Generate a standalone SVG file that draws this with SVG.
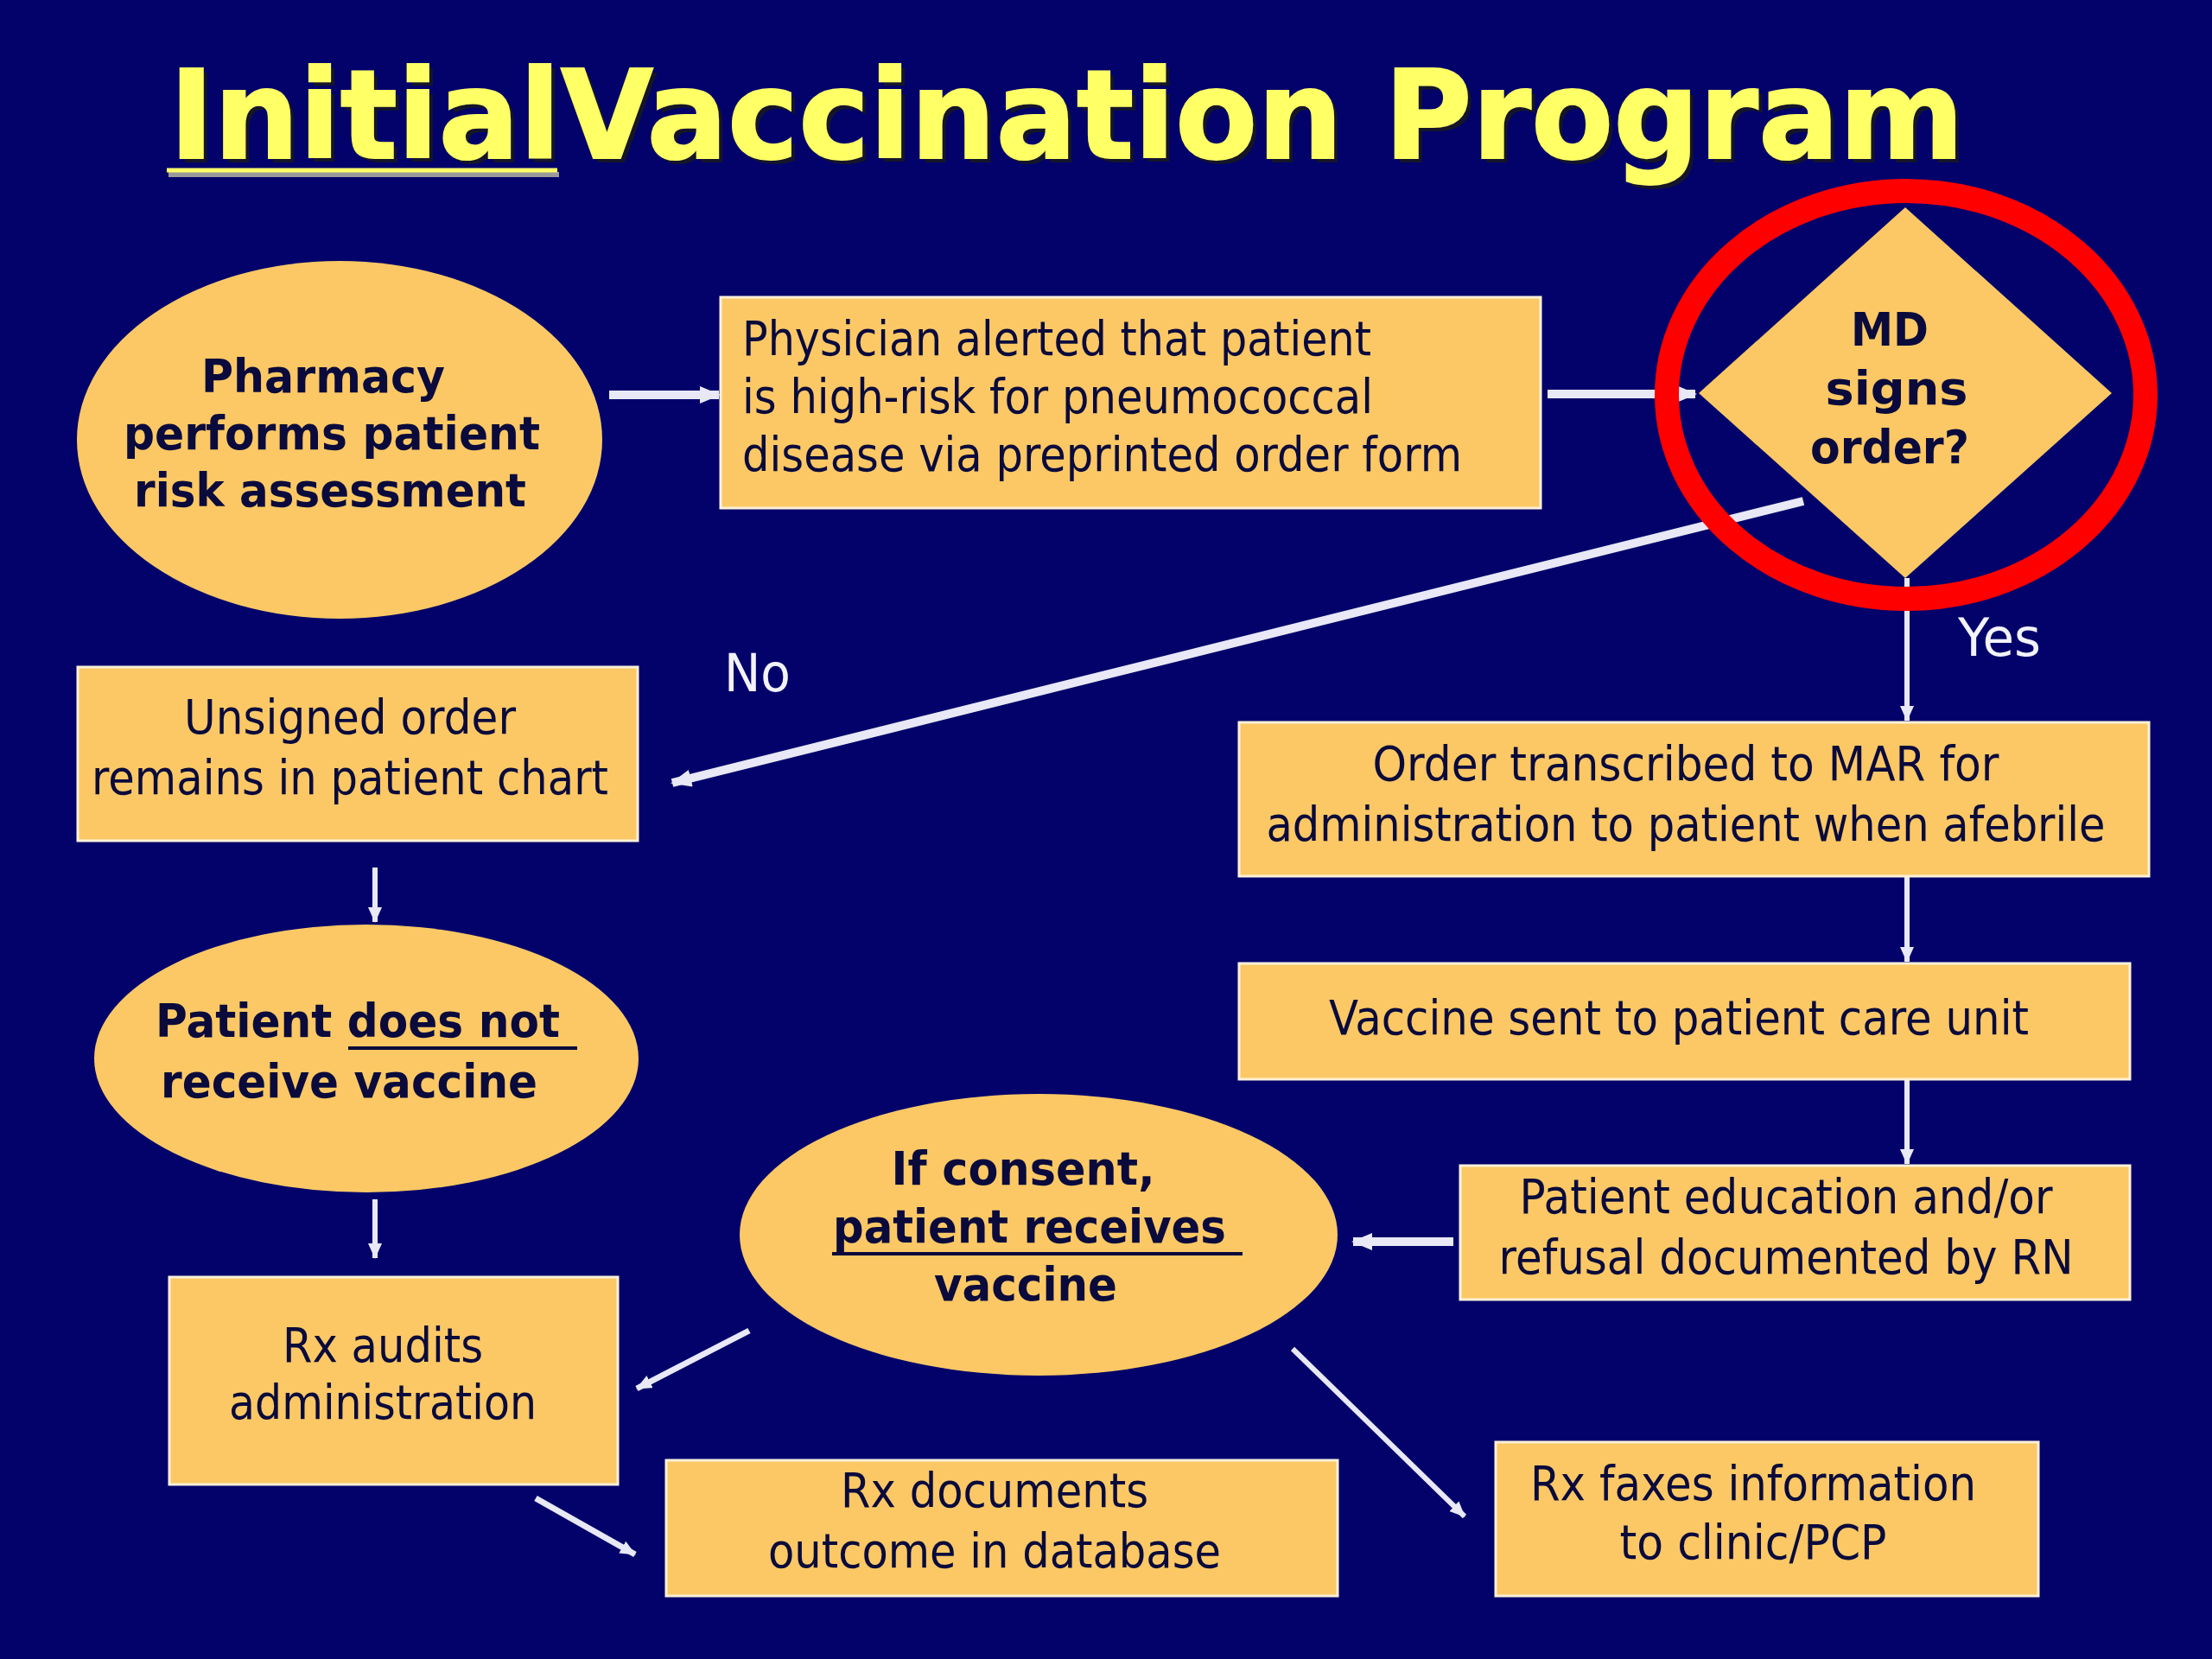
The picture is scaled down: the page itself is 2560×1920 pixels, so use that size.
<svg xmlns="http://www.w3.org/2000/svg" width="2560" height="1920" viewBox="0 0 2560 1920">
<style>
.node{fill:#fbc865;}
.rect{fill:#fbc865;stroke:#fff1d8;stroke-width:3;}
.t{font-family:"DejaVu Sans",Verdana,sans-serif;font-size:55px;fill:#0a0a3c;text-anchor:middle;}
.b{font-weight:bold;font-size:54px;}
.l{text-anchor:start;}
.lbl{font-family:"DejaVu Sans",Verdana,sans-serif;font-size:60px;fill:#f2f2fa;text-anchor:start;}
.c{stroke:#e8e8f6;fill:none;}
.ul{stroke:#0a0a3c;stroke-width:4;}
</style>
<defs>
<marker id="ah" markerUnits="userSpaceOnUse" markerWidth="24" markerHeight="20" refX="22" refY="10" orient="auto">
<path d="M0,0 L24,10 L0,20 z" fill="#e8e8f6"/>
</marker>
<marker id="ahs" markerUnits="userSpaceOnUse" markerWidth="18" markerHeight="16" refX="17" refY="8" orient="auto">
<path d="M0,0 L18,8 L0,16 z" fill="#e8e8f6"/>
</marker>
</defs>
<rect x="0" y="0" width="2560" height="1920" fill="#02026a"/>

<g id="title">
<text x="201" y="188" font-family="'DejaVu Sans',Verdana,sans-serif" font-weight="bold" font-size="143" fill="#15152a" textLength="2077" lengthAdjust="spacingAndGlyphs">InitialVaccination Program</text>
<text x="196" y="183" font-family="'DejaVu Sans',Verdana,sans-serif" font-weight="bold" font-size="143" fill="#ffff66" stroke="#ffff66" stroke-width="2" textLength="2077" lengthAdjust="spacingAndGlyphs">InitialVaccination Program</text>
<line x1="195" y1="202" x2="647" y2="202" stroke="#9a9a9a" stroke-width="6"/>
<line x1="193" y1="197" x2="645" y2="197" stroke="#ffff66" stroke-width="5"/>
</g>

<g id="connectors">
<path class="c" stroke-width="10" d="M705,457 L832,457" marker-end="url(#ah)"/>
<path class="c" stroke-width="10" d="M1791,456 L1962,456" marker-end="url(#ah)"/>
<path class="c" stroke-width="10" d="M2087,580 L778,906" marker-end="url(#ah)"/>
<path class="c" stroke-width="6" d="M2207,669 L2207,834" marker-end="url(#ahs)"/>
<path class="c" stroke-width="6" d="M2207,1014 L2207,1113" marker-end="url(#ahs)"/>
<path class="c" stroke-width="6" d="M2207,1249 L2207,1347" marker-end="url(#ahs)"/>
<path class="c" stroke-width="10" d="M1682,1437 L1566,1437" marker-end="url(#ah)"/>
<path class="c" stroke-width="6" d="M434,1004 L434,1067" marker-end="url(#ahs)"/>
<path class="c" stroke-width="6" d="M434,1388 L434,1456" marker-end="url(#ahs)"/>
<path class="c" stroke-width="7" d="M867,1540 L737,1607" marker-end="url(#ahs)"/>
<path class="c" stroke-width="6" d="M1496,1561 L1695,1755" marker-end="url(#ahs)"/>
<path class="c" stroke-width="7" d="M620,1734 L735,1799" marker-end="url(#ahs)"/>
<text class="lbl" x="838" y="800" textLength="77" lengthAdjust="spacingAndGlyphs">No</text>
<text class="lbl" x="2266" y="759" textLength="96" lengthAdjust="spacingAndGlyphs">Yes</text>
</g>

<g id="n-pharmacy">
<ellipse class="node" cx="393" cy="509" rx="304" ry="207"/>
<text class="t b" x="374" y="454" textLength="282" lengthAdjust="spacingAndGlyphs">Pharmacy</text>
<text class="t b" x="384" y="520" textLength="482" lengthAdjust="spacingAndGlyphs">performs patient</text>
<text class="t b" x="382" y="586" textLength="454" lengthAdjust="spacingAndGlyphs">risk assessment</text>
</g>

<g id="n-physician">
<rect class="rect" x="834" y="344" width="949" height="244"/>
<text class="t l" x="859" y="411" textLength="728" lengthAdjust="spacingAndGlyphs">Physician alerted that patient</text>
<text class="t l" x="859" y="478" textLength="730" lengthAdjust="spacingAndGlyphs">is high-risk for pneumococcal</text>
<text class="t l" x="859" y="545" textLength="833" lengthAdjust="spacingAndGlyphs">disease via preprinted order form</text>
</g>

<g id="n-md">
<polygon class="node" points="2205,240 2444,455 2205,669 1966,455"/>
<text class="t b" x="2187" y="400" textLength="90" lengthAdjust="spacingAndGlyphs">MD</text>
<text class="t b" x="2195" y="468" textLength="165" lengthAdjust="spacingAndGlyphs">signs</text>
<text class="t b" x="2187" y="536" textLength="184" lengthAdjust="spacingAndGlyphs">order?</text>
<ellipse cx="2206" cy="457" rx="277" ry="236" fill="none" stroke="#ff0000" stroke-width="28"/>
</g>

<g id="n-unsigned">
<rect class="rect" x="90" y="772" width="648" height="201"/>
<text class="t" x="405" y="849" textLength="384" lengthAdjust="spacingAndGlyphs">Unsigned order</text>
<text class="t" x="405" y="919" textLength="598" lengthAdjust="spacingAndGlyphs">remains in patient chart</text>
</g>

<g id="n-transcribed">
<rect class="rect" x="1434" y="836" width="1053" height="178"/>
<text class="t" x="1951" y="903" textLength="725" lengthAdjust="spacingAndGlyphs">Order transcribed to MAR for</text>
<text class="t" x="1951" y="973" textLength="971" lengthAdjust="spacingAndGlyphs">administration to patient when afebrile</text>
</g>

<g id="n-notreceive">
<ellipse class="node" cx="424" cy="1225" rx="315" ry="155"/>
<text class="t b l" x="180" y="1200" textLength="468" lengthAdjust="spacingAndGlyphs">Patient does not</text>
<line class="ul" x1="403" y1="1213" x2="668" y2="1213"/>
<text class="t b" x="404" y="1270" textLength="436" lengthAdjust="spacingAndGlyphs">receive vaccine</text>
</g>

<g id="n-vaccinesent">
<rect class="rect" x="1434" y="1115" width="1031" height="134"/>
<text class="t" x="1943" y="1197" textLength="810" lengthAdjust="spacingAndGlyphs">Vaccine sent to patient care unit</text>
</g>

<g id="n-education">
<rect class="rect" x="1690" y="1349" width="775" height="155"/>
<text class="t" x="2067" y="1404" textLength="617" lengthAdjust="spacingAndGlyphs">Patient education and/or</text>
<text class="t" x="2067" y="1474" textLength="665" lengthAdjust="spacingAndGlyphs">refusal documented by RN</text>
</g>

<g id="n-consent">
<ellipse class="node" cx="1202" cy="1429" rx="346" ry="163"/>
<text class="t b" x="1184" y="1371" textLength="305" lengthAdjust="spacingAndGlyphs">If consent,</text>
<text class="t b l" x="964" y="1438" textLength="455" lengthAdjust="spacingAndGlyphs">patient receives</text>
<line class="ul" x1="963" y1="1451" x2="1438" y2="1451"/>
<text class="t b" x="1187" y="1505" textLength="212" lengthAdjust="spacingAndGlyphs">vaccine</text>
</g>

<g id="n-audits">
<rect class="rect" x="196" y="1478" width="519" height="240"/>
<text class="t" x="443" y="1576" textLength="232" lengthAdjust="spacingAndGlyphs">Rx audits</text>
<text class="t" x="443" y="1642" textLength="356" lengthAdjust="spacingAndGlyphs">administration</text>
</g>

<g id="n-documents">
<rect class="rect" x="771" y="1690" width="777" height="157"/>
<text class="t" x="1151" y="1744" textLength="356" lengthAdjust="spacingAndGlyphs">Rx documents</text>
<text class="t" x="1151" y="1814" textLength="524" lengthAdjust="spacingAndGlyphs">outcome in database</text>
</g>

<g id="n-faxes">
<rect class="rect" x="1731" y="1669" width="628" height="178"/>
<text class="t" x="2029" y="1736" textLength="516" lengthAdjust="spacingAndGlyphs">Rx faxes information</text>
<text class="t" x="2029" y="1804" textLength="309" lengthAdjust="spacingAndGlyphs">to clinic/PCP</text>
</g>
</svg>
